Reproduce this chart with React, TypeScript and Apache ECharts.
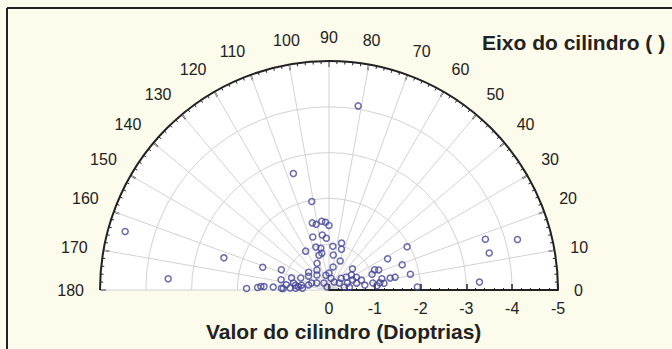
import { useEffect, useRef } from "react";
import * as echarts from "echarts";

// Cylinder power (dioptres, negative) and cylinder axis (degrees) per eye
const cylinderPower = [
  -1.97, -1.51, -1.46, -1.51, -1.48, -1.41, -1.21, -1.21, -1.13, -0.99,
  -0.98, -0.93, -0.82, -0.79, -0.96, -1.06, -0.93, -0.77, -0.68, -0.64,
  -0.51, -0.59, -0.51, -0.42, -0.54, -0.33, -0.37, -0.26, -0.67, -0.74,
  -0.61, -0.46, -0.41, -0.31, -0.19, -0.08,
  -0.37, -0.47, -0.59, -0.66, -0.56, -0.43, -0.27, -0.34, -0.45, -0.62,
  -0.74, -0.79, -0.21, -0.69, -1.0, -1.09, -1.17, -1.18, -0.97, -1.12,
  -1.21, -1.05, -1.45, -1.36, -1.47, -1.69, -1.95, -1.81, -1.93, -3.29,
  -3.59, -3.59, -4.26, -4.07,
  -4.63, -3.52, -2.4, -1.53, -1.13, -1.8, -1.56, -1.49, -1.42, -1.22,
  -1.07, -1.04, -1.0, -0.94, -0.86, -0.79, -0.73, -0.67, -0.58, -0.85,
  -2.66,
];
const cylinderAxis = [
  101, 104, 101, 96, 93, 90, 107, 97, 93, 121,
  107, 101, 101, 106, 85, 75, 73, 83, 69, 114,
  80, 139, 121, 129, 146, 102, 90, 80, 157, 172,
  170, 166, 158, 150, 126, 124,
  44, 37, 34, 25, 23, 21, 34, 11, 8, 14,
  17, 8, 57, 42, 20, 24, 22, 12, 9, 8,
  7, 5, 28, 11, 11, 19, 29, 11, 2, 3,
  18, 13, 15, 81,
  164, 176, 163, 161, 157, 179, 178, 177, 177, 177,
  168, 178, 178, 173, 162, 169, 177, 174, 176, 177,
  107,
];
const radiusTickLabels = ["0", "-1", "-2", "-3", "-4", "-5"];

const INK = "#222222";
const GRID = "#d2d2d2";
const FONT = "'Liberation Sans', Arial, sans-serif";
const CENTER = [329, 290];
const RADIUS = 229;

export default function App() {
  const ref = useRef<HTMLDivElement>(null);

  useEffect(() => {
    if (!ref.current) return;
    const chart = echarts.init(ref.current, undefined, { renderer: "svg" });
    const points = cylinderPower.map((c, i) => [-c, cylinderAxis[i]]);

    chart.setOption({
      animation: false,
      backgroundColor: "#fdfbeb",
      polar: { center: CENTER, radius: RADIUS },
      angleAxis: {
        type: "value",
        min: 0,
        max: 180,
        interval: 10,
        startAngle: 0,
        endAngle: 180,
        clockwise: false,
        axisLine: { show: true, lineStyle: { color: INK, width: 2 } },
        axisTick: { show: true, inside: true, length: 6, lineStyle: { color: INK, width: 1.5 } },
        minorTick: { show: true, splitNumber: 5, length: 3, lineStyle: { color: INK } },
        axisLabel: { fontSize: 16, color: INK, margin: 16, fontFamily: FONT },
        splitLine: { show: true, lineStyle: { color: GRID, width: 1 } },
      },
      radiusAxis: {
        type: "value",
        min: 0,
        max: 5,
        interval: 1,
        axisLine: { show: true, lineStyle: { color: INK, width: 2 } },
        axisTick: { show: true, length: 6, lineStyle: { color: INK, width: 1.5 } },
        minorTick: { show: true, splitNumber: 5, length: 2, lineStyle: { color: INK } },
        axisLabel: {
          fontSize: 16,
          color: INK,
          margin: -26,
          fontFamily: FONT,
          formatter: (v: number) => radiusTickLabels[Math.round(v)] ?? String(-v),
        },
        splitLine: { show: true, lineStyle: { color: GRID, width: 1 } },
      },
      graphic: [
        {
          // white plotting face of the half-disc
          type: "sector",
          z: -1,
          silent: true,
          shape: {
            cx: CENTER[0],
            cy: CENTER[1],
            r: RADIUS,
            r0: 0,
            startAngle: Math.PI,
            endAngle: Math.PI * 2,
          },
          style: { fill: "#ffffff" },
        },
        {
          type: "line",
          shape: { x1: 7, y1: 8, x2: 672, y2: 8 },
          style: { stroke: INK, lineWidth: 2 },
        },
        {
          type: "line",
          shape: { x1: 7, y1: 8, x2: 7, y2: 349 },
          style: { stroke: INK, lineWidth: 2 },
        },
        {
          type: "text",
          left: 482,
          top: 32,
          z: 10,
          style: {
            text: "Eixo do cilindro ( )",
            fontSize: 21,
            fontWeight: "bold",
            fontFamily: FONT,
            fill: INK,
          },
        },
        {
          type: "text",
          left: 206,
          top: 321,
          z: 10,
          style: {
            text: "Valor do cilindro (Dioptrias)",
            fontSize: 21,
            fontWeight: "bold",
            fontFamily: FONT,
            fill: INK,
          },
        },
      ],
      series: [
        {
          type: "scatter",
          coordinateSystem: "polar",
          symbol: "circle",
          symbolSize: 6,
          data: points,
          itemStyle: { color: "rgba(255,255,255,0)", borderColor: "#44449a", borderWidth: 1.5 },
        },
      ],
    });

    return () => chart.dispose();
  }, []);

  return (
    <div
      ref={ref}
      style={{ position: "absolute", left: 0, top: 0, width: 672, height: 349 }}
    />
  );
}
